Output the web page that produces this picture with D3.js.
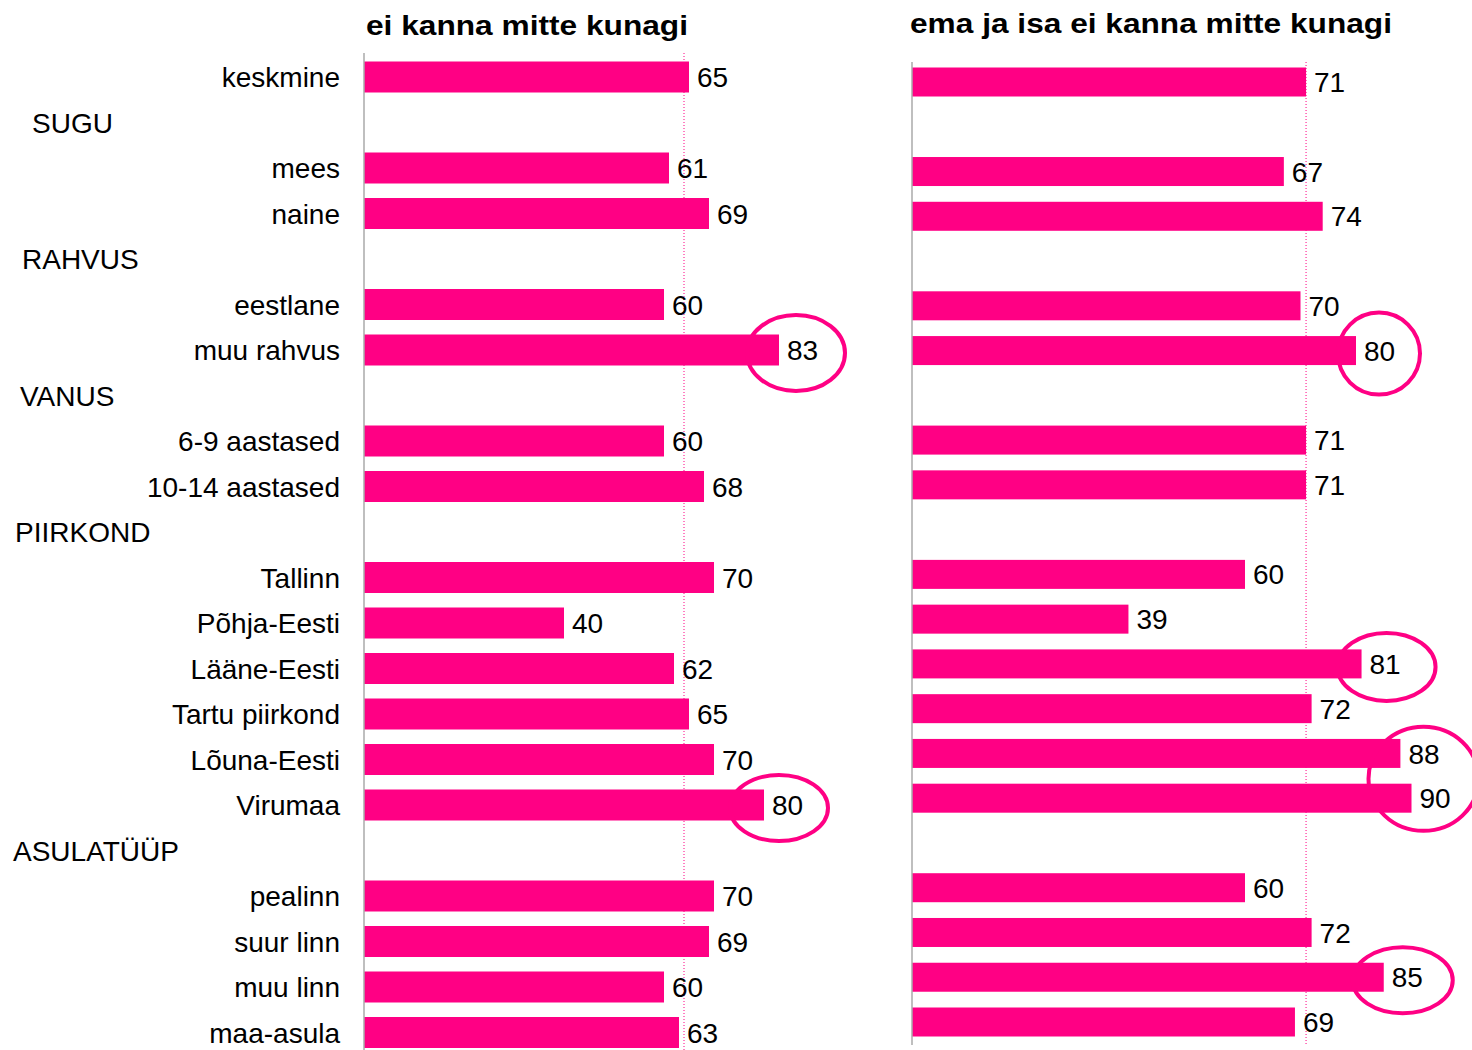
<!DOCTYPE html>
<html>
<head>
<meta charset="utf-8">
<script src="https://cdn.jsdelivr.net/npm/d3@7"></script>
<style>
  body { margin: 0; background: #fff; }
  text { font-family: "Liberation Sans", Arial, sans-serif; fill: #000; }
</style>
</head>
<body>
<div id="chart"></div>
<script>
// rows in drawing order; group headers have no bar
const rows = ["keskmine", "SUGU", "mees", "naine", "RAHVUS", "eestlane", "muu rahvus",
  "VANUS", "6-9 aastased", "10-14 aastased", "PIIRKOND", "Tallinn", "Põhja-Eesti",
  "Lääne-Eesti", "Tartu piirkond", "Lõuna-Eesti", "Virumaa", "ASULATÜÜP",
  "pealinn", "suur linn", "muu linn", "maa-asula"];
const groups = ["SUGU", "RAHVUS", "VANUS", "PIIRKOND", "ASULATÜÜP"];
const categories = rows.filter(r => !groups.includes(r));

const leftValues = [65, 61, 69, 60, 83, 60, 68, 70, 40, 62, 65, 70, 80, 70, 69, 60, 63];
const rightValues = [71, 67, 74, 70, 80, 71, 71, 60, 39, 81, 72, 88, 90, 60, 72, 85, 69];
const leftRef = 64;
const rightRef = 71;

const titles = ["ei kanna mitte kunagi", "ema ja isa ei kanna mitte kunagi"];

// circled values: one or two adjacent categories per ring
const leftRings = [["muu rahvus"], ["Virumaa"]];
const rightRings = [["muu rahvus"], ["Lääne-Eesti"], ["Lõuna-Eesti", "Virumaa"], ["muu linn"]];

const pink = "#ff0084";
const W = 1472, H = 1050;

const svg = d3.select("#chart").append("svg")
  .attr("width", W).attr("height", H);

// group header x positions (as in the original layout)
const headerX = { "SUGU": 32, "RAHVUS": 22, "VANUS": 20, "PIIRKOND": 15, "ASULATÜÜP": 13 };

const yLeft = d3.scalePoint().domain(rows).range([77, 1032.5]);
const yRight = d3.scalePoint().domain(rows).range([82, 1022]);

// row labels
svg.append("g").selectAll("text")
  .data(rows)
  .join("text")
  .attr("x", d => groups.includes(d) ? headerX[d] : 340)
  .attr("y", d => yLeft(d))
  .attr("dy", "0.36em")
  .attr("text-anchor", d => groups.includes(d) ? "start" : "end")
  .style("font-size", "28px")
  .text(d => d);

const panels = [
  { values: leftValues, ref: leftRef, y: yLeft, bar: 31, x: d3.scaleLinear([0, 100], [364, 864]),
    axis: [53, 1050], title: titles[0], tx: 366, ty: 35, tlen: 322, rings: leftRings,
    ringSize: [[17, 49, 38], [15, 49, 33]] },
  { values: rightValues, ref: rightRef, y: yRight, bar: 29, x: d3.scaleLinear([0, 100], [912, 1467]),
    axis: [62, 1045], title: titles[1], tx: 910, ty: 33, tlen: 482, rings: rightRings,
    ringSize: [[23, 41, 41], [25, 49, 34], [12, 55, 52], [19, 50, 33]] }
];

panels.forEach(p => {
  const g = svg.append("g");
  const data = categories.map((c, i) => ({ c, v: p.values[i] }));
  const x0 = p.x(0);

  g.append("text")
    .attr("x", p.tx).attr("y", p.ty)
    .attr("textLength", p.tlen).attr("lengthAdjust", "spacingAndGlyphs")
    .style("font-size", "27px").style("font-weight", "bold")
    .text(p.title);

  // reference (average) dotted line
  g.append("line")
    .attr("x1", p.x(p.ref)).attr("x2", p.x(p.ref))
    .attr("y1", p.axis[0]).attr("y2", p.axis[1])
    .attr("stroke", pink).attr("stroke-width", 1)
    .attr("stroke-dasharray", "1,2");

  g.selectAll("rect")
    .data(data)
    .join("rect")
    .attr("x", x0)
    .attr("y", d => p.y(d.c) - p.bar / 2)
    .attr("width", d => p.x(d.v) - x0)
    .attr("height", p.bar)
    .attr("fill", pink);

  g.append("line")
    .attr("x1", x0).attr("x2", x0)
    .attr("y1", p.axis[0]).attr("y2", p.axis[1])
    .attr("stroke", "#aaa").attr("stroke-width", 1.5);

  g.selectAll("text.val")
    .data(data)
    .join("text")
    .attr("class", "val")
    .attr("x", d => p.x(d.v) + 8)
    .attr("y", d => p.y(d.c))
    .attr("dy", "0.36em")
    .style("font-size", "28px")
    .text(d => d.v);

  g.selectAll("ellipse")
    .data(p.rings)
    .join("ellipse")
    .attr("cx", (r, i) => d3.max(r, c => p.x(p.values[categories.indexOf(c)])) + p.ringSize[i][0])
    .attr("cy", r => d3.mean(r, c => p.y(c)) + 3)
    .attr("rx", (r, i) => p.ringSize[i][1])
    .attr("ry", (r, i) => p.ringSize[i][2])
    .attr("fill", "none")
    .attr("stroke", pink)
    .attr("stroke-width", 4);
});
</script>
</body>
</html>
